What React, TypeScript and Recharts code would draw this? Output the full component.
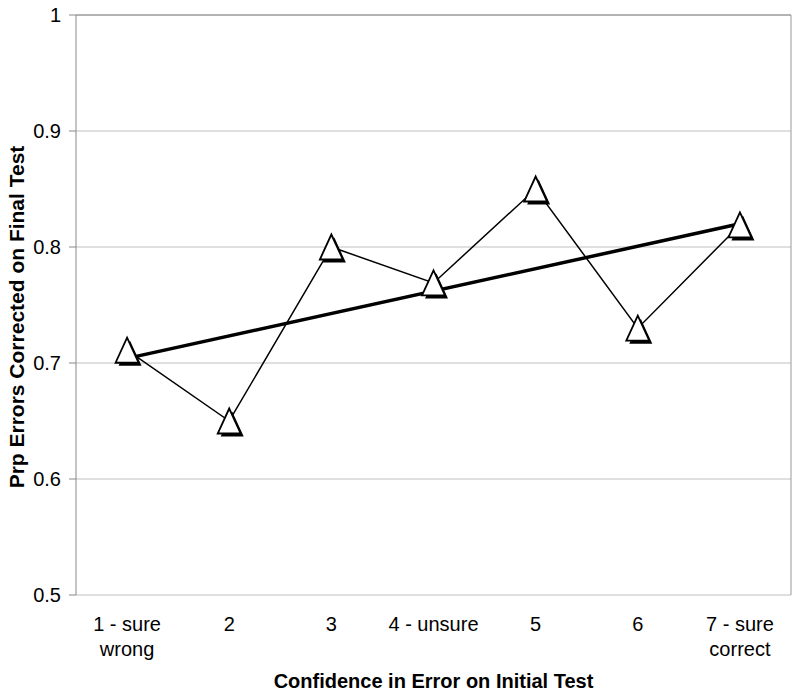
import { CartesianGrid, Label, Line, LineChart, ReferenceLine, XAxis, YAxis } from "recharts";

const categories = ["1 - sure\nwrong", "2", "3", "4 - unsure", "5", "6", "7 - sure\ncorrect"];
const errorsCorrected = [0.711, 0.65, 0.8, 0.769, 0.85, 0.73, 0.819];
// linear trend, endpoints
const trend = [0.704, null, null, null, null, null, 0.82];
const yTicks = [0.5, 0.6, 0.7, 0.8, 0.9, 1];
const xPositions = [1, 2, 3, 4, 5, 6, 7];
const xBoundaries = [0.5, 1.5, 2.5, 3.5, 4.5, 5.5, 6.5, 7.5];

const data = categories.map((name, i) => ({
  x: xPositions[i],
  name,
  value: errorsCorrected[i],
  trend: trend[i],
}));

const font = "'Liberation Sans', Arial, sans-serif";

function Triangle(props: any) {
  const { cx, cy } = props;
  if (cx == null || cy == null) return null;
  const w = 11.5;
  const h = 12.5;
  const pts = (dx: number, dy: number) =>
    `${cx + dx},${cy - h + dy} ${cx + w + dx},${cy + h + dy} ${cx - w + dx},${cy + h + dy}`;
  return (
    <g>
      <polygon points={pts(3, 3)} fill="#000" />
      <polygon points={pts(0, 0)} fill="#fff" stroke="#000" strokeWidth={1.8} strokeLinejoin="miter" />
    </g>
  );
}

function CategoryTick(props: any) {
  const { x, y, payload } = props;
  const label = categories[xPositions.indexOf(payload.value)] ?? "";
  const lines = label.split("\n");
  return (
    <text x={x} y={y} textAnchor="middle" fontFamily={font} fontSize={20} fill="#000">
      {lines.map((l, i) => (
        <tspan key={i} x={x} dy={i === 0 ? 14 : 25}>
          {l}
        </tspan>
      ))}
    </text>
  );
}

export default function App() {
  return (
    <div style={{ position: "fixed", left: 0, top: 0, width: 800, height: 697, background: "#fff" }}>
      <LineChart width={800} height={697} data={data} margin={{ top: 15, right: 9, bottom: 0, left: 0 }}>
        <CartesianGrid horizontal vertical={false} stroke="#c0c0c0" xAxisId="labels" />
        <XAxis
          xAxisId="ticks"
          dataKey="x"
          type="number"
          domain={[0.5, 7.5]}
          ticks={xBoundaries}
          tickFormatter={() => ""}
          tickSize={7}
          height={0}
          axisLine={{ stroke: "#888" }}
          tickLine={{ stroke: "#888" }}
        />
        <XAxis
          xAxisId="labels"
          dataKey="x"
          type="number"
          domain={[0.5, 7.5]}
          ticks={xPositions}
          tick={<CategoryTick />}
          tickLine={false}
          axisLine={false}
          tickSize={0}
          tickMargin={22}
          height={102}
          interval={0}
        >
          <Label
            content={({ viewBox }: any) => (
              <text
                x={viewBox.x + viewBox.width / 2}
                y={688}
                textAnchor="middle"
                fontFamily={font}
                fontSize={20}
                fontWeight="bold"
                fill="#000"
              >
                Confidence in Error on Initial Test
              </text>
            )}
          />
        </XAxis>
        <YAxis
          type="number"
          domain={[0.5, 1]}
          ticks={yTicks}
          width={76}
          tickSize={7}
          tickMargin={8}
          tickFormatter={(v: number) => (v === 1 ? "1" : v.toFixed(1))}
          tick={{ fontFamily: font, fontSize: 20, fill: "#000" }}
          axisLine={{ stroke: "#888" }}
          tickLine={{ stroke: "#888" }}
        >
          <Label
            content={({ viewBox }: any) => {
              const cx = 16;
              const cy = viewBox.y + viewBox.height / 2 + 12;
              return (
                <text
                  x={cx}
                  y={cy}
                  transform={`rotate(-90 ${cx} ${cy})`}
                  textAnchor="middle"
                  dominantBaseline="central"
                  fontFamily={font}
                  fontSize={21}
                  fontWeight="bold"
                  fill="#000"
                >
                  Prp Errors Corrected on Final Test
                </text>
              );
            }}
          />
        </YAxis>
        <ReferenceLine y={1} xAxisId="labels" stroke="#888" />
        <ReferenceLine x={7.5} xAxisId="labels" stroke="#999" />
        <Line
          xAxisId="labels"
          dataKey="value"
          stroke="#000"
          strokeWidth={1.5}
          dot={<Triangle />}
          activeDot={false}
          isAnimationActive={false}
        />
        <Line
          xAxisId="labels"
          dataKey="trend"
          stroke="#000"
          strokeWidth={3.5}
          dot={false}
          activeDot={false}
          connectNulls
          isAnimationActive={false}
        />
      </LineChart>
    </div>
  );
}
